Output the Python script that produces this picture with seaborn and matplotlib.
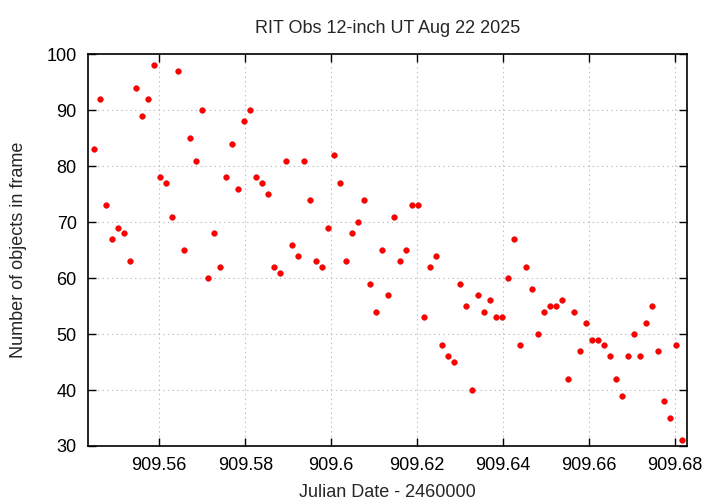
import numpy as np
import pandas as pd
import matplotlib
matplotlib.use("Agg")
import matplotlib.pyplot as plt
from matplotlib.ticker import FuncFormatter, MultipleLocator
import seaborn as sns

# Data (JD - 2460000, number of objects)
jd = [909.54481, 909.54621, 909.54760, 909.54900, 909.55039, 909.55179, 909.55318,
      909.55458, 909.55597, 909.55737, 909.55876, 909.56016, 909.56155, 909.56295,
      909.56434, 909.56574, 909.56713, 909.56853, 909.56992, 909.57132, 909.57272,
      909.57411, 909.57551, 909.57690, 909.57830, 909.57969, 909.58109, 909.58248,
      909.58388, 909.58527, 909.58667, 909.58806, 909.58946, 909.59085, 909.59225,
      909.59364, 909.59504, 909.59643, 909.59783, 909.59923, 909.60062, 909.60202,
      909.60341, 909.60481, 909.60620, 909.60760, 909.60899, 909.61039, 909.61178,
      909.61318, 909.61457, 909.61597, 909.61736, 909.61876, 909.62015, 909.62155,
      909.62294, 909.62434, 909.62574, 909.62713, 909.62853, 909.62992, 909.63132,
      909.63271, 909.63411, 909.63550, 909.63690, 909.63829, 909.63969, 909.64108,
      909.64248, 909.64387, 909.64527, 909.64666, 909.64806, 909.64945, 909.65085,
      909.65225, 909.65364, 909.65504, 909.65643, 909.65783, 909.65922, 909.66062,
      909.66201, 909.66341, 909.66480, 909.66620, 909.66759, 909.66899, 909.67038,
      909.67178, 909.67317, 909.67457, 909.67596, 909.67736, 909.67876, 909.68015,
      909.68155]
n_objects = [83, 92, 73, 67, 69, 68, 63, 94, 89, 92, 98, 78, 77, 71, 97, 65, 85, 81,
             90, 60, 68, 62, 78, 84, 76, 88, 90, 78, 77, 75, 62, 61, 81, 66, 64, 81,
             74, 63, 62, 69, 82, 77, 63, 68, 70, 74, 59, 54, 65, 57, 71, 63, 65, 73,
             73, 53, 62, 64, 48, 46, 45, 59, 55, 40, 57, 54, 56, 53, 53, 60, 67, 48,
             62, 58, 50, 54, 55, 55, 56, 42, 54, 47, 52, 49, 49, 48, 46, 42, 39, 46,
             50, 46, 52, 55, 47, 38, 35, 48, 31]

df = pd.DataFrame({"jd": jd, "n": n_objects})

sns.set_style("ticks")
plt.rcParams["font.family"] = ["Liberation Sans", "DejaVu Sans"]
plt.rcParams["font.size"] = 13

fig = plt.figure(figsize=(7.2, 5.04), dpi=100)
ax = fig.add_axes([0.1222, 0.1151, 0.9537 - 0.1222, 0.8923 - 0.1151])

sns.scatterplot(data=df, x="jd", y="n", ax=ax, color="#ff0000", s=17,
                linewidth=0.3, edgecolor="#d00000", zorder=3)

ax.set_xlim(909.54342, 909.68265)
ax.set_ylim(30, 100)
ax.xaxis.set_major_locator(MultipleLocator(0.02))
ax.yaxis.set_major_locator(MultipleLocator(10))
ax.xaxis.set_major_formatter(FuncFormatter(lambda v, p: "%g" % round(v, 4)))

ax.grid(True, color="#bbbbbb", linestyle=(0, (1.2, 3)), linewidth=0.8)
ax.tick_params(direction="in", length=6, width=1, top=True, right=True,
               labelsize=13, pad=8, colors="black")
for sp in ax.spines.values():
    sp.set_linewidth(1.2)
    sp.set_color("black")

ax.set_title("RIT Obs 12-inch UT Aug 22 2025", fontsize=13, pad=15)
ax.set_xlabel("Julian Date - 2460000", fontsize=13, labelpad=7)
ax.set_ylabel("Number of objects in frame", fontsize=13, labelpad=14)

fig.savefig("out.png", dpi=100)
